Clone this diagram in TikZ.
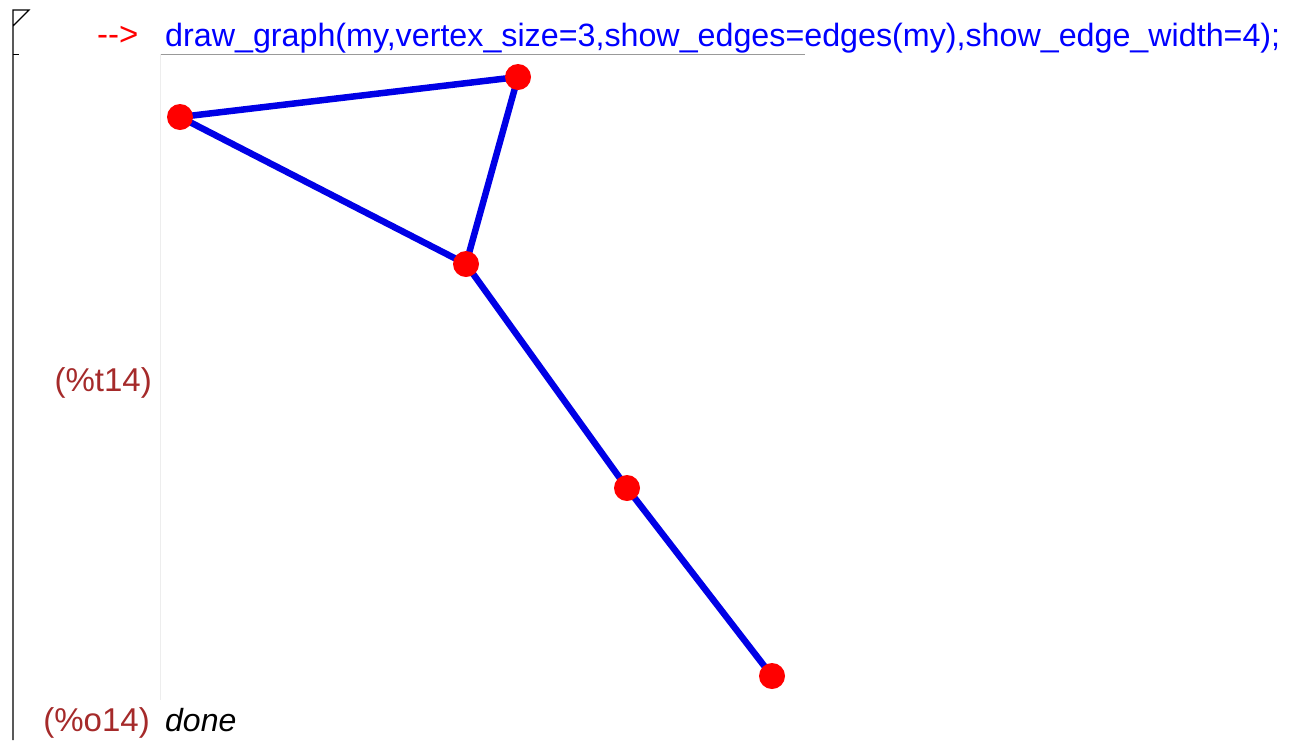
\documentclass[tikz,border=0pt]{standalone}
\usepackage{fontspec}
\setmainfont{Liberation Sans}
\definecolor{lblred}{RGB}{165,42,42}
\definecolor{edgeblue}{RGB}{0,0,230}
\begin{document}
\begin{tikzpicture}[x=1pt,y=-1pt,
  vtx/.style={circle,fill=red,draw=none,minimum size=26pt,inner sep=0pt},
  edg/.style={edgeblue,line width=6.5pt},
  lbl/.style={inner sep=0pt,anchor=base east,text=lblred,font=\fontsize{33}{33}\selectfont}]
\useasboundingbox[fill=white] (0,0) rectangle (1290,740);
% cell bracket
\draw[line width=1.2pt] (13,740) -- (13,10) -- (29,10) -- (13,26);
\draw[line width=1pt] (13,54) -- (19,54);
% input line
\node[inner sep=0pt,anchor=base west,text=red,font=\fontsize{33}{33}\selectfont] (prompt) at (97,45) {-{}->};
\node[inner sep=0pt,anchor=base west,text=blue] (cmd) at (165,46) {\resizebox{1115pt}{!}{\fontsize{31}{31}\selectfont draw\_graph(my,vertex\_size=3,show\_edges=edges(my),show\_edge\_width=4);}};
\draw[gray!80,line width=1pt] (160,54) -- (805,54);
\draw[black!7,line width=1pt] (160,54) -- (160,700);
% labels
\node[lbl] (t14) at (152,391) {(\%t14)};
\node[lbl] (o14) at (150,731) {(\%o14)};
\node[inner sep=0pt,anchor=base west,font=\fontsize{32}{32}\selectfont\itshape] (done) at (165,731) {done};
% graph
\coordinate (a) at (180,117);
\coordinate (b) at (518,77);
\coordinate (c) at (466,264);
\coordinate (d) at (627,488);
\coordinate (e) at (772,676);
\draw[edg] (a) -- (b) (a) -- (c) (b) -- (c) (c) -- (d) (d) -- (e);
\foreach \v in {a,b,c,d,e} \node[vtx] (n\v) at (\v) {};
\end{tikzpicture}
\end{document}
